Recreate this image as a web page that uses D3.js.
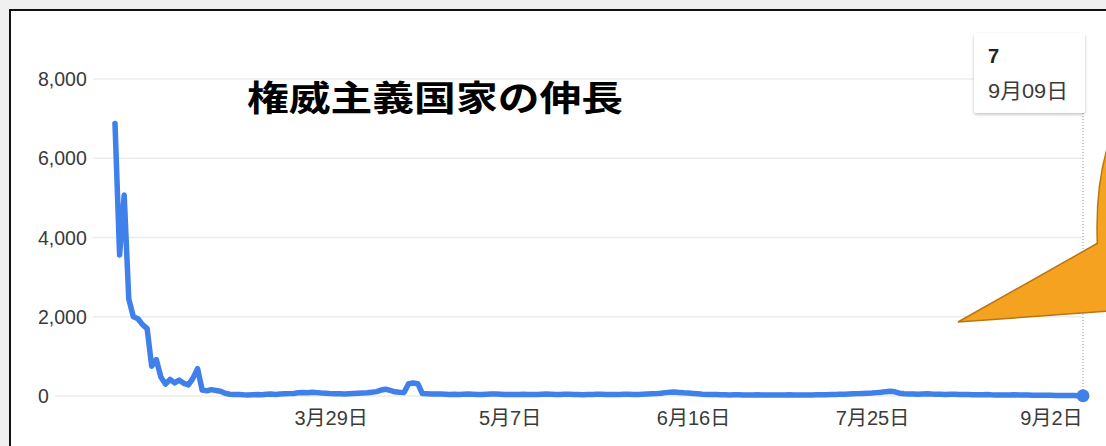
<!DOCTYPE html>
<html><head><meta charset="utf-8">
<script src="https://cdn.jsdelivr.net/npm/d3@7"></script>
<style>
html,body{margin:0;padding:0;background:#f0f0f0;}
svg{display:block;}
</style></head>
<body>
<svg id="c" width="1106" height="446"></svg>
<script>
// ---- data ----
const startDate = "2020-02-11";
const values = [
 6880, 3560, 5070, 2450, 2000, 1950, 1800, 1700, 750, 920,
 480, 300, 420, 330, 400, 320, 280, 450, 690, 150,
 130, 160, 140, 120, 70, 45,
 40, 35, 30, 28, 32, 38, 30, 42, 48, 40, 50, 55, 60, 65,
 85, 90, 80, 95, 85, 75, 70, 60,
 55, 58, 50, 55, 62, 68, 75, 82, 95,
 110, 150, 170, 140, 105, 95,
 90,
 310, 330, 310,
 60, 55, 50, 48, 52, 45, 40, 42, 38, 45,
 50, 44, 40, 36, 42, 48, 50, 45, 40, 38,
 35, 40, 42, 38, 36, 40, 45, 48, 44, 40,
 38, 42, 45, 40, 36, 34, 38, 40, 44, 42,
 38, 35, 38, 40, 42, 45, 40, 38, 42, 48,
 55, 60, 70, 85, 95, 100, 90, 80,
 75, 65, 55, 45, 40, 38, 35, 32, 30, 28,
 30, 32, 28, 25, 27, 30, 28, 26, 25, 24,
 26, 28, 30, 27, 25, 24, 26, 28, 30, 32,
 34, 36, 38, 42, 45, 50, 55, 60, 65, 70,
 75,
 85, 95, 110, 120, 105, 70, 55, 50, 48, 45,
 50, 55, 48, 45, 42, 40, 44, 46, 40, 38,
 35, 33, 30, 32, 35, 30, 28, 26, 25, 28,
 30, 27, 25, 24, 22, 20, 18, 20, 16, 14,
 12, 15, 10, 12, 9, 7
];
const yTicks = [0, 2000, 4000, 6000, 8000];
const xTickDates = ["2020-03-29", "2020-05-07", "2020-06-16", "2020-07-25", "2020-09-02"];
const titleText = "権威主義国家の伸長";
const tooltipValue = "7";
const tooltipDate = "9月09日";

// ---- build ----
const parse = d3.utcParse("%Y-%m-%d");
const t0 = parse(startDate);
const data = values.map((v, i) => ({date: d3.utcDay.offset(t0, i), value: v}));

const svg = d3.select("#c");
const FONT = "'Liberation Sans', Arial, 'Noto Sans CJK JP', sans-serif";
const LABEL = "#3a3a3a";

// panel
svg.append("rect").attr("x", 10).attr("y", 10).attr("width", 1200).attr("height", 500)
  .attr("fill", "#fff").attr("stroke", "#111").attr("stroke-width", 2);

const x = d3.scaleUtc().domain(d3.extent(data, d => d.date)).range([115, 1083]);
const y = d3.scaleLinear().domain([0, 8000]).range([396, 79]);

// y gridlines + labels
const yg = svg.append("g");
yTicks.forEach(t => {
  const lab = yg.append("text").attr("x", 38).attr("y", y(t)).attr("dy", "0.36em")
    .attr("font-family", FONT).attr("font-size", 19.5).attr("fill", LABEL)
    .text(d3.format(",")(t));
  const w = lab.node().getComputedTextLength();
  yg.insert("line", "text").attr("x1", 38 + w + 6).attr("x2", 1083)
    .attr("y1", y(t)).attr("y2", y(t)).attr("stroke", "#ececec").attr("stroke-width", 1.5);
});

// x axis
const fmt = d => (d.getUTCMonth() + 1) + "月" + d.getUTCDate() + "日";
const xAxis = d3.axisBottom(x).tickValues(xTickDates.map(parse)).tickFormat(fmt).tickSize(0).tickPadding(0);
const xg = svg.append("g").attr("transform", "translate(0,418)").call(xAxis);
xg.select(".domain").remove();
xg.selectAll("text").attr("font-family", FONT).attr("font-size", 20).attr("fill", LABEL).attr("dy", "0.36em");

// hover line
const last = data[data.length - 1];
svg.append("line").attr("x1", x(last.date)).attr("x2", x(last.date))
  .attr("y1", 113).attr("y2", y(last.value))
  .attr("stroke", "#9a9a9a").attr("stroke-width", 1).attr("stroke-dasharray", "1,2");

// line
const line = d3.line().x(d => x(d.date)).y(d => y(d.value));
svg.append("path").datum(data).attr("d", line).attr("fill", "none")
  .attr("stroke", "#3f80ea").attr("stroke-width", 5.5).attr("stroke-linejoin", "round").attr("stroke-linecap", "round");

// end dot
svg.append("circle").attr("cx", x(last.date)).attr("cy", y(last.value)).attr("r", 6.5).attr("fill", "#3f80ea");

// title
svg.append("text").attr("x", 247).attr("y", 111)
  .attr("font-family", "'Noto Sans CJK JP', sans-serif").attr("font-weight", 700).attr("font-size", 35)
  .attr("fill", "#000").attr("textLength", 376).attr("lengthAdjust", "spacingAndGlyphs")
  .text(titleText);

// tooltip
const defs = svg.append("defs");
const f = defs.append("filter").attr("id", "sh").attr("x", "-20%").attr("y", "-20%").attr("width", "140%").attr("height", "150%");
f.append("feDropShadow").attr("dx", 0).attr("dy", 1.5).attr("stdDeviation", 1.5).attr("flood-color", "#000").attr("flood-opacity", 0.25);
svg.append("rect").attr("x", 974).attr("y", 33).attr("width", 111).attr("height", 80).attr("rx", 3)
  .attr("fill", "#fff").attr("filter", "url(#sh)");
svg.append("text").attr("x", 988).attr("y", 63).attr("font-family", FONT).attr("font-weight", 700)
  .attr("font-size", 20).attr("fill", "#222").text(tooltipValue);
svg.append("text").attr("x", 988).attr("y", 98).attr("font-family", FONT)
  .attr("font-size", 21).attr("fill", LABEL).attr("textLength", 80).attr("lengthAdjust", "spacingAndGlyphs")
  .text(tooltipDate);

// orange callout
const OR = "#f4a21f", ORS = "#b77710";
svg.append("ellipse").attr("cx", 1150).attr("cy", 228).attr("rx", 53).attr("ry", 135)
  .attr("fill", OR).attr("stroke", ORS).attr("stroke-width", 1.5);
svg.append("path").attr("d", "M1098,243 L958,322 L1125,310 L1125,243 Z").attr("fill", OR);
svg.append("path").attr("d", "M1098,243 L958,322 L1125,310").attr("fill", "none")
  .attr("stroke", ORS).attr("stroke-width", 1.5).attr("stroke-linejoin", "miter");
</script>
</body></html>
